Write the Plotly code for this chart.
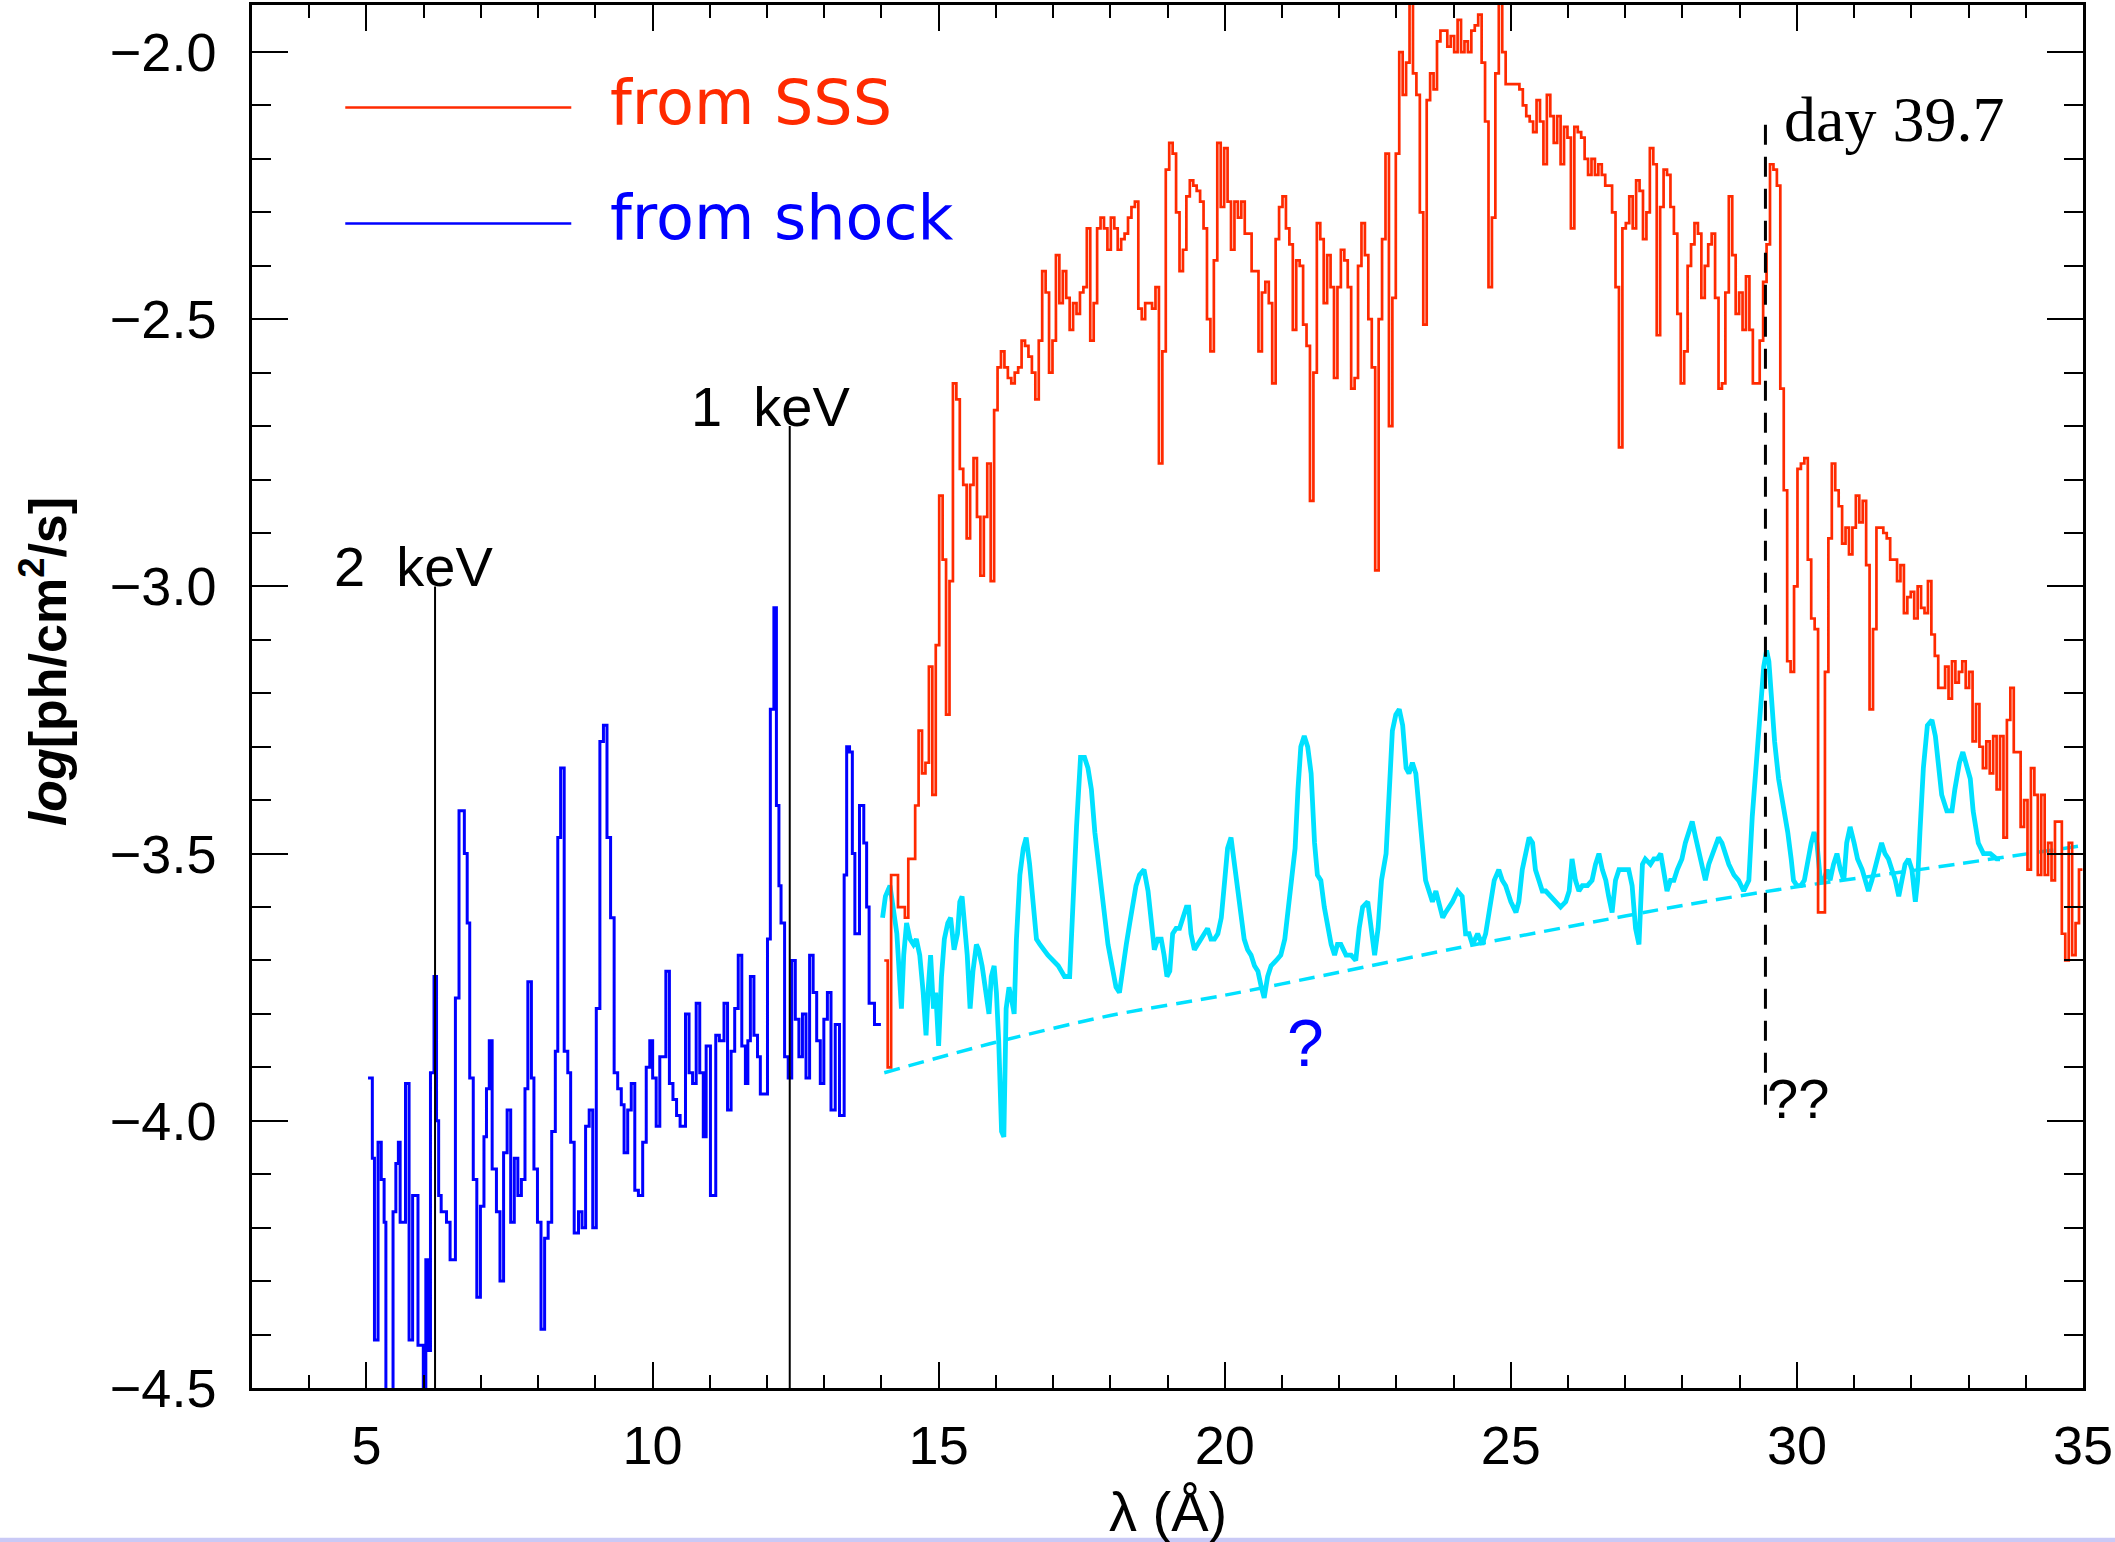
import plotly.graph_objects as go

# ---------------------------------------------------------------------------
# Spectral data: log photon flux [ph/cm^2/s] versus wavelength [Angstrom]
# ---------------------------------------------------------------------------

HC_KEV_ANGSTROM = 12.398  # E[keV] * lambda[A]

# Supersoft-source component, histogram on a uniform wavelength grid
SSS_FIRST_EDGE = 14.05
SSS_BIN_WIDTH = 0.06
SSS_LOGFLUX = [
    -3.70, -3.90, -3.54, -3.54, -3.60, -3.60, -3.62, -3.51, -3.51, -3.41,
    -3.27, -3.35, -3.33, -3.15, -3.39, -3.11, -2.83, -2.95, -3.24, -2.99,
    -2.62, -2.65, -2.78, -2.81, -2.91, -2.81, -2.76, -2.87, -2.98, -2.87,
    -2.77, -2.99, -2.67, -2.59, -2.56, -2.59, -2.61, -2.62, -2.60, -2.59,
    -2.54, -2.55, -2.57, -2.60, -2.65, -2.54, -2.41, -2.45, -2.60, -2.54,
    -2.38, -2.47, -2.41, -2.46, -2.52, -2.47, -2.49, -2.45, -2.44, -2.33,
    -2.54, -2.47, -2.33, -2.31, -2.33, -2.37, -2.31, -2.33, -2.37, -2.35,
    -2.34, -2.31, -2.29, -2.28, -2.48, -2.50, -2.47, -2.47, -2.48, -2.44,
    -2.77, -2.56, -2.22, -2.17, -2.19, -2.30, -2.41, -2.37, -2.27, -2.24,
    -2.25, -2.26, -2.28, -2.33, -2.50, -2.56, -2.39, -2.17, -2.29, -2.18,
    -2.28, -2.37, -2.28, -2.31, -2.28, -2.34, -2.34, -2.41, -2.41, -2.56,
    -2.45, -2.43, -2.47, -2.62, -2.35, -2.29, -2.27, -2.33, -2.36, -2.52,
    -2.39, -2.40, -2.51, -2.55,
    -2.84, -2.60, -2.32, -2.35, -2.47, -2.38, -2.44, -2.61, -2.44, -2.37,
    -2.39, -2.44, -2.63, -2.61, -2.40, -2.32, -2.38, -2.50, -2.59, -2.97,
    -2.50, -2.35, -2.19, -2.70, -2.46, -2.19, -2.00, -2.08, -2.02, -1.90,
    -2.04, -2.08, -2.30, -2.51, -2.09, -2.04, -2.07, -1.98, -1.96, -1.96,
    -1.99, -1.97, -2.00, -1.94, -2.00, -1.98, -2.00, -1.96, -1.95, -1.93,
    -2.02, -2.13, -2.44, -2.31, -2.04, -1.90, -2.00, -2.06, -2.06, -2.06,
    -2.06, -2.07, -2.10, -2.12, -2.13, -2.15, -2.09, -2.13, -2.21, -2.08,
    -2.12, -2.17, -2.12, -2.21, -2.14, -2.16, -2.33, -2.14, -2.15, -2.16,
    -2.20, -2.23, -2.20, -2.23, -2.21, -2.23, -2.25, -2.25, -2.30, -2.44,
    -2.74, -2.33, -2.32, -2.27, -2.33, -2.24, -2.26, -2.35, -2.30, -2.18,
    -2.21, -2.53, -2.29, -2.22, -2.23, -2.29, -2.34, -2.49, -2.62, -2.56,
    -2.40, -2.36, -2.32, -2.34, -2.46, -2.40, -2.36, -2.34, -2.46, -2.63,
    -2.62, -2.45, -2.27, -2.38, -2.49,
    -2.45, -2.52, -2.42, -2.52, -2.62, -2.62, -2.54, -2.43, -2.36, -2.21,
    -2.22, -2.25, -2.63, -2.82, -3.14, -3.16, -3.00, -2.78, -2.77, -2.76,
    -2.95, -3.06, -3.08, -3.61, -3.61, -3.16, -2.91, -2.77, -2.82, -2.85,
    -2.92, -2.89, -2.94, -2.89, -2.83, -2.88, -2.84, -2.96, -3.23, -3.08,
    -2.89, -2.89, -2.90, -2.91, -2.95, -2.95, -2.99, -2.96, -3.05, -3.02,
    -3.01, -3.06, -3.00, -3.04, -3.05, -2.99, -3.09, -3.13, -3.19, -3.19,
    -3.15, -3.21, -3.14, -3.18, -3.16, -3.14, -3.19, -3.16, -3.29, -3.22,
    -3.30, -3.34, -3.29, -3.35, -3.28, -3.38, -3.28, -3.47, -3.25, -3.19,
    -3.31, -3.31, -3.45, -3.40, -3.53, -3.34, -3.39, -3.54, -3.39, -3.54,
    -3.48, -3.55, -3.44, -3.44, -3.65, -3.70, -3.48, -3.69, -3.63, -3.53,
]

# Shock component below 14 A, histogram with individual bin edges
SHOCK_EDGES = [
    5.028, 5.103, 5.140, 5.203, 5.259, 5.309, 5.340, 5.465, 5.514, 5.558,
    5.589, 5.683, 5.745, 5.807, 5.901, 5.994, 6.038, 6.075, 6.119, 6.181,
    6.225, 6.262, 6.306, 6.399, 6.462, 6.555, 6.618, 6.711, 6.761, 6.805,
    6.867, 6.929, 6.992, 7.054, 7.098, 7.147, 7.197, 7.272, 7.334, 7.397,
    7.459, 7.521, 7.584, 7.646, 7.708, 7.771, 7.821, 7.883, 7.927, 7.989,
    8.051, 8.114, 8.176, 8.238, 8.301, 8.344, 8.394, 8.456, 8.519, 8.569,
    8.631, 8.706, 8.768, 8.830, 8.893, 8.955, 9.017, 9.080, 9.142, 9.204,
    9.267, 9.329, 9.391, 9.454, 9.503, 9.566, 9.628, 9.690, 9.753, 9.828,
    9.890, 9.952, 10.002, 10.064, 10.127, 10.233, 10.295, 10.357, 10.420, 10.482,
    10.576, 10.638, 10.700, 10.763, 10.825, 10.887, 10.937, 11.012, 11.105, 11.168,
    11.249, 11.311, 11.373, 11.436, 11.498, 11.560, 11.623, 11.666, 11.710, 11.772,
    11.835, 11.884, 11.947, 12.009, 12.059, 12.121, 12.165, 12.209, 12.246, 12.308,
    12.371, 12.433, 12.495, 12.558, 12.620, 12.682, 12.745, 12.807, 12.869, 12.932,
    12.994, 13.056, 13.119, 13.193, 13.268, 13.349, 13.393, 13.443, 13.492, 13.536,
    13.617, 13.692, 13.742, 13.785, 13.879,
]
SHOCK_LAST_EDGE = 13.991
SHOCK_LOGFLUX = [
    -3.92, -4.07, -4.41, -4.04, -4.11, -4.19, -4.55, -4.17, -4.08, -4.04,
    -4.19, -3.93, -4.41, -4.14, -4.42, -4.55, -4.26, -4.43, -3.91, -3.73,
    -4.00, -4.14, -4.17, -4.19, -4.26, -3.77, -3.42, -3.50, -3.63, -3.92,
    -4.11, -4.33, -4.16, -4.03, -3.94, -3.85, -4.09, -4.17, -4.30, -4.06,
    -3.98, -4.19, -4.07, -4.14, -4.11, -3.94, -3.74, -3.92, -4.09, -4.19,
    -4.39, -4.22, -4.19, -4.02, -3.87, -3.47, -3.34, -3.87, -3.91, -4.04,
    -4.21, -4.17, -4.20, -4.01, -3.98, -4.20, -3.79, -3.29, -3.26, -3.47,
    -3.62, -3.91, -3.94, -3.97, -4.06, -3.98, -3.93, -4.13, -4.14, -4.04,
    -3.90, -3.85, -3.92, -4.01, -3.88, -3.72, -3.93, -3.96, -3.99, -4.01,
    -3.80, -3.91, -3.93, -3.78, -3.91, -4.03, -3.86, -4.14, -3.84, -3.85,
    -3.78, -3.98, -3.87, -3.79, -3.69, -3.86, -3.93, -3.85, -3.73, -3.84,
    -3.88, -3.95, -3.95, -3.66, -3.23, -3.04, -3.41, -3.56, -3.63, -3.88,
    -3.92, -3.70, -3.81, -3.88, -3.80, -3.92, -3.69, -3.76, -3.85, -3.93,
    -3.81, -3.76, -3.98, -3.82, -3.99, -3.54, -3.30, -3.31, -3.50, -3.65,
    -3.41, -3.48, -3.60, -3.78, -3.82,
]

# Shock component above 14 A (smoothed)
SHOCK_SMOOTH_WAVE = [
    14.02, 14.07, 14.15, 14.21, 14.27, 14.31, 14.35, 14.39, 14.44, 14.50,
    14.56, 14.61, 14.67, 14.73, 14.78, 14.82, 14.86, 14.91, 14.95, 15.00,
    15.05, 15.10, 15.16, 15.21, 15.27, 15.33, 15.37, 15.41, 15.46, 15.50,
    15.55, 15.60, 15.66, 15.70, 15.76, 15.82, 15.88, 15.92, 15.97, 16.01,
    16.05, 16.10, 16.14, 16.18, 16.23, 16.27, 16.32, 16.36, 16.42, 16.48,
    16.53, 16.59, 16.65, 16.71, 16.77, 16.91, 17.09, 17.20, 17.29, 17.35,
    17.41, 17.48, 17.55, 17.61, 17.67, 17.73, 17.78, 17.84, 17.90, 17.96,
    18.03, 18.10, 18.16, 18.22, 18.28, 18.34, 18.40, 18.45, 18.51, 18.59,
    18.66, 18.72, 18.77, 18.83, 18.89, 18.94, 18.99, 19.04, 19.09, 19.15,
    19.21, 19.27, 19.33, 19.37, 19.41, 19.47, 19.53, 19.59, 19.65, 19.70,
    19.76, 19.82, 19.88, 19.94, 20.00, 20.05, 20.11, 20.17, 20.23, 20.29,
    20.34, 20.40, 20.46, 20.52, 20.58, 20.64, 20.69, 20.75, 20.81, 20.90,
    20.98, 21.05, 21.11, 21.17, 21.23, 21.28, 21.33, 21.39, 21.45, 21.51,
    21.57, 21.62, 21.68, 21.74, 21.80, 21.86, 21.92, 21.97, 22.03, 22.12,
    22.21, 22.29, 22.35, 22.41, 22.50, 22.55, 22.62, 22.68, 22.74, 22.82,
    22.87, 22.93, 22.99, 23.05, 23.11, 23.17, 23.22, 23.28, 23.34, 23.40,
    23.46, 23.51, 23.57, 23.63, 23.69, 23.75, 23.81, 23.86, 23.92, 23.98,
    24.07, 24.15, 24.21, 24.27, 24.33, 24.42, 24.50, 24.56, 24.62, 24.71,
    24.79, 24.85, 24.91, 25.00, 25.09, 25.14, 25.20, 25.26, 25.32, 25.38,
    25.43, 25.49, 25.55, 25.61, 25.70, 25.78, 25.87, 25.96, 26.02, 26.07,
    26.13, 26.19, 26.25, 26.34, 26.42, 26.48, 26.54, 26.60, 26.66, 26.71,
    26.77, 26.83, 26.89, 26.95, 27.00, 27.06, 27.12, 27.18, 27.24, 27.30,
    27.35, 27.44, 27.50, 27.56, 27.62, 27.67, 27.73, 27.79, 27.85, 27.91,
    27.99, 28.05, 28.11, 28.17, 28.23, 28.29, 28.34, 28.40, 28.46, 28.52,
    28.58, 28.63, 28.69, 28.75, 28.81, 28.90, 28.98,
    29.07, 29.16, 29.22, 29.29, 29.36, 29.42, 29.47, 29.51, 29.55, 29.61,
    29.68, 29.77, 29.84, 29.90, 29.94, 30.00, 30.07, 30.13, 30.19, 30.25,
    30.30, 30.35, 30.41, 30.47, 30.53, 30.58, 30.64, 30.70, 30.76, 30.82,
    30.87, 30.93, 31.00, 31.06, 31.14, 31.19, 31.25, 31.31, 31.37, 31.43,
    31.48, 31.54, 31.60, 31.66, 31.72, 31.78, 31.83, 31.89, 31.95, 32.01,
    32.07, 32.11, 32.15, 32.21, 32.28, 32.36, 32.42, 32.47, 32.53, 32.62,
    32.71, 32.76, 32.84, 32.90, 32.96, 33.03, 33.08, 33.17, 33.26, 33.38,
    33.49, 33.55,
]
SHOCK_SMOOTH_LOGFLUX = [
    -3.62, -3.58, -3.56, -3.60, -3.65, -3.72, -3.79, -3.69, -3.63, -3.66,
    -3.67, -3.66, -3.69, -3.76, -3.84, -3.75, -3.69, -3.79, -3.76, -3.86,
    -3.73, -3.66, -3.63, -3.62, -3.68, -3.65, -3.59, -3.58, -3.63, -3.69,
    -3.79, -3.72, -3.67, -3.68, -3.71, -3.75, -3.80, -3.73, -3.71, -3.76,
    -3.85, -4.02, -4.03, -3.79, -3.75, -3.77, -3.80, -3.66, -3.54, -3.49,
    -3.47, -3.52, -3.60, -3.66, -3.67, -3.69, -3.71, -3.73, -3.73, -3.58,
    -3.45, -3.32, -3.32, -3.34, -3.38, -3.46, -3.51, -3.57, -3.63, -3.67,
    -3.71, -3.75, -3.76, -3.71, -3.67, -3.63, -3.59, -3.56, -3.54, -3.53,
    -3.57, -3.64, -3.68, -3.66, -3.66, -3.69, -3.73, -3.72, -3.65, -3.64,
    -3.64, -3.62, -3.60, -3.60, -3.65, -3.68, -3.67, -3.66, -3.65, -3.64,
    -3.66, -3.66, -3.65, -3.62, -3.55, -3.49, -3.47, -3.52, -3.58, -3.63,
    -3.66, -3.68, -3.69, -3.71, -3.72, -3.75, -3.77, -3.73, -3.71, -3.70,
    -3.69, -3.66, -3.60, -3.55, -3.49, -3.38, -3.30, -3.28, -3.30, -3.35,
    -3.48, -3.54, -3.55, -3.60, -3.64, -3.67, -3.69, -3.67, -3.67, -3.69,
    -3.69, -3.70, -3.64, -3.60, -3.59, -3.63, -3.69, -3.64, -3.55, -3.50,
    -3.39, -3.27, -3.24, -3.23, -3.26, -3.34, -3.35, -3.33, -3.35, -3.42,
    -3.48, -3.55, -3.57, -3.59, -3.57, -3.60, -3.62, -3.61, -3.60, -3.59,
    -3.57, -3.58, -3.65, -3.65, -3.67, -3.65, -3.67, -3.65, -3.61, -3.55,
    -3.53, -3.55, -3.56, -3.59, -3.61, -3.59, -3.53, -3.50, -3.47, -3.48,
    -3.53, -3.55, -3.57, -3.57, -3.58, -3.59, -3.60, -3.59, -3.57, -3.51,
    -3.55, -3.57, -3.56, -3.56, -3.55, -3.52, -3.50, -3.53, -3.55, -3.58,
    -3.61, -3.55, -3.53, -3.53, -3.53, -3.53, -3.56, -3.64, -3.67, -3.52,
    -3.51, -3.52, -3.51, -3.51, -3.50, -3.53, -3.57, -3.55, -3.55, -3.53,
    -3.51, -3.48, -3.46, -3.44, -3.47, -3.50, -3.53, -3.55, -3.52, -3.50,
    -3.48, -3.47, -3.48, -3.50, -3.52, -3.54, -3.55,
    -3.57, -3.55, -3.43, -3.33, -3.22, -3.15, -3.12, -3.14, -3.20, -3.29,
    -3.36, -3.41, -3.46, -3.51, -3.55, -3.56, -3.56, -3.55, -3.51, -3.48,
    -3.46, -3.48, -3.55, -3.55, -3.53, -3.55, -3.52, -3.50, -3.53, -3.55,
    -3.48, -3.45, -3.48, -3.51, -3.53, -3.55, -3.57, -3.55, -3.52, -3.50,
    -3.48, -3.50, -3.51, -3.53, -3.55, -3.58, -3.55, -3.52, -3.51, -3.53,
    -3.59, -3.55, -3.46, -3.34, -3.26, -3.25, -3.28, -3.34, -3.39, -3.42,
    -3.42, -3.38, -3.33, -3.31, -3.33, -3.36, -3.42, -3.48, -3.50, -3.50,
    -3.51, -3.51,
]

# Shock continuum level (dashed)
CONTINUUM_WAVE = [14.05, 16.0, 18.0, 20.0, 22.0, 24.0, 26.0, 28.0, 30.0, 32.0, 35.0]
CONTINUUM_LOGFLUX = [-3.91, -3.853, -3.803, -3.765, -3.722, -3.678, -3.637, -3.597,
                     -3.562, -3.532, -3.485]

# Reference energies marked by vertical lines
MARKER_ENERGIES_KEV = [2, 1]
MARKER_TOPS = [-3.0, -2.70]
MARKER_LABELS = ["2\u00a0\u00a0keV", "1\u00a0\u00a0keV"]

# Dashed marker at the SSS edge
EDGE_WAVE = 29.45
EDGE_SPAN = [-3.97, -2.13]

# ---------------------------------------------------------------------------
RED = "#ff2a00"
BLUE = "#0000ff"
CYAN = "#00e1ff"
SANS = "Liberation Sans, Arial, sans-serif"

fig = go.Figure()

# shock spectrum (histogram steps)
fig.add_trace(go.Scatter(
    x=SHOCK_EDGES + [SHOCK_LAST_EDGE],
    y=SHOCK_LOGFLUX + [SHOCK_LOGFLUX[-1]],
    mode="lines", line=dict(color=BLUE, width=3, shape="hv"),
))

# smoothed shock emission and its continuum
fig.add_trace(go.Scatter(
    x=SHOCK_SMOOTH_WAVE, y=SHOCK_SMOOTH_LOGFLUX,
    mode="lines", line=dict(color=CYAN, width=4.8),
))
fig.add_trace(go.Scatter(
    x=CONTINUUM_WAVE, y=CONTINUUM_LOGFLUX,
    mode="lines", line=dict(color=CYAN, width=3.5, dash="16px,9px", shape="spline", smoothing=0.8),
))

# SSS spectrum (histogram steps)
sss_edges = [SSS_FIRST_EDGE + SSS_BIN_WIDTH * i for i in range(len(SSS_LOGFLUX) + 1)]
fig.add_trace(go.Scatter(
    x=sss_edges, y=SSS_LOGFLUX + [SSS_LOGFLUX[-1]],
    mode="lines", line=dict(color=RED, width=2.7, shape="hv"),
))

# energy markers
for e_kev, top in zip(MARKER_ENERGIES_KEV, MARKER_TOPS):
    wl = HC_KEV_ANGSTROM / e_kev
    fig.add_trace(go.Scatter(
        x=[wl, wl], y=[-4.5, top], mode="lines",
        line=dict(color="black", width=2),
    ))

fig.add_trace(go.Scatter(
    x=[EDGE_WAVE, EDGE_WAVE], y=EDGE_SPAN, mode="lines",
    line=dict(color="black", width=3, dash="20px,12px"),
))

annotations = []
label_offsets = [(5.82, -2.962), (12.07, -2.664)]
for text, (lx, ly) in zip(MARKER_LABELS, label_offsets):
    annotations.append(dict(
        x=lx, y=ly, xref="x", yref="y", text=text, showarrow=False,
        xanchor="center", yanchor="middle",
        font=dict(family=SANS, size=56, color="black"),
    ))

annotations += [
    dict(x=31.69, y=-2.126, xref="x", yref="y", text="day 39.7", showarrow=False,
         xanchor="center", yanchor="middle",
         font=dict(family="Liberation Serif, Times New Roman, serif", size=64, color="black")),
    dict(x=30.02, y=-3.958, xref="x", yref="y", text="??", showarrow=False,
         xanchor="center", yanchor="middle",
         font=dict(family=SANS, size=56, color="black")),
    dict(x=21.42, y=-3.855, xref="x", yref="y", text="?", showarrow=False,
         xanchor="center", yanchor="middle",
         font=dict(family=SANS, size=66, color=BLUE)),
    # legend entries
    dict(x=9.22, y=-2.094, xref="x", yref="y", text="from SSS", showarrow=False,
         xanchor="left", yanchor="middle",
         font=dict(family="DejaVu Sans, sans-serif", size=62, color=RED)),
    dict(x=9.22, y=-2.310, xref="x", yref="y", text="from shock", showarrow=False,
         xanchor="left", yanchor="middle",
         font=dict(family="DejaVu Sans, sans-serif", size=62, color=BLUE)),
    # axis titles
    dict(x=0.5, y=-0.0895, xref="paper", yref="paper", text="λ (Å)", showarrow=False,
         xanchor="center", yanchor="middle",
         font=dict(family=SANS, size=56, color="black")),
    dict(x=-0.1134, y=0.525, xref="paper", yref="paper",
         text="<b><i>log</i>[ph/cm<sup>2</sup>/s]</b>", showarrow=False, textangle=-90,
         xanchor="center", yanchor="middle",
         font=dict(family=SANS, size=52, color="black")),
]

shapes = [
    dict(type="line", xref="x", yref="y", x0=4.63, x1=8.58, y0=-2.104, y1=-2.104,
         line=dict(color=RED, width=2.5)),
    dict(type="line", xref="x", yref="y", x0=4.63, x1=8.58, y0=-2.321, y1=-2.321,
         line=dict(color=BLUE, width=2.5)),
    # thin band along the bottom edge of the page
    dict(type="rect", xref="paper", yref="paper", x0=-0.2, x1=1.1, y0=-0.1115, y1=-0.1082,
         line=dict(width=0), fillcolor="#c9c9f6", layer="below"),
]

axis_common = dict(
    showgrid=False, zeroline=False, showline=True, linecolor="black", linewidth=2.5,
    mirror="allticks", ticks="inside", tickcolor="black", tickwidth=2,
    tickfont=dict(family=SANS, size=54, color="black"),
    ticklabeloverflow="allow",
)

fig.update_layout(
    width=2115, height=1542,
    margin=dict(l=252, r=29, t=2, b=154, pad=0),
    plot_bgcolor="white", paper_bgcolor="white",
    showlegend=False,
    xaxis=dict(
        range=[3, 35], tick0=0, dtick=5, ticklen=26,
        minor=dict(dtick=1, ticks="inside", ticklen=13, tickwidth=2, tickcolor="black"),
        ticklabelstandoff=8,
        **axis_common,
    ),
    yaxis=dict(
        range=[-4.5, -1.912], tick0=0, dtick=0.5, tickformat=".1f", ticklen=36,
        minor=dict(dtick=0.1, ticks="inside", ticklen=19, tickwidth=2, tickcolor="black"),
        ticklabelstandoff=22,
        **axis_common,
    ),
    annotations=annotations,
    shapes=shapes,
)

fig.write_html("out.html", config={"displayModeBar": False})
